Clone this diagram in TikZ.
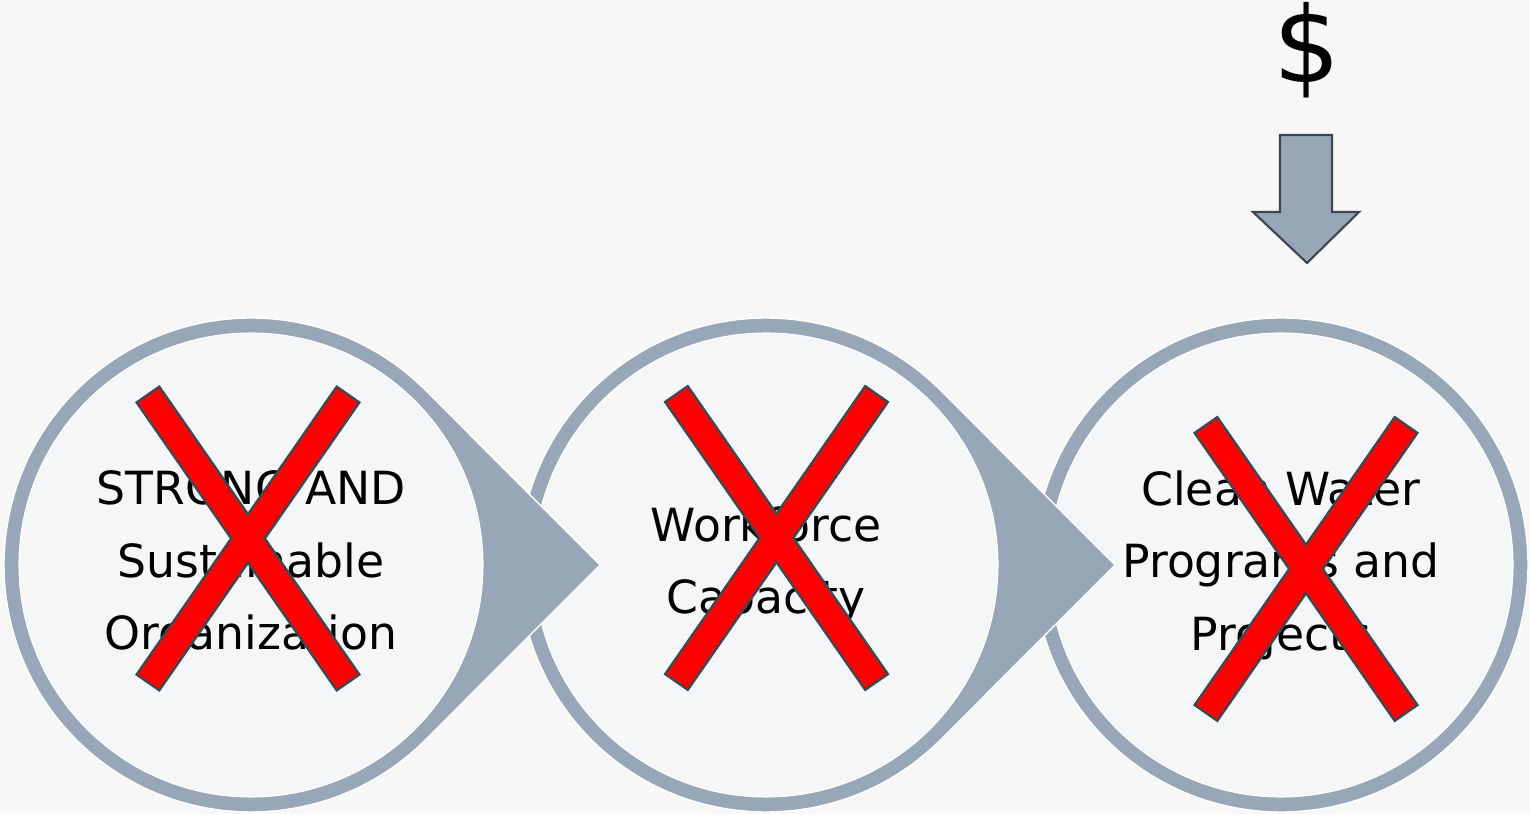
\documentclass[tikz,border=0pt]{standalone}
\usepackage{fontspec}
\setmainfont{DejaVu Sans}
\definecolor{bgcolor}{RGB}{247,247,247}
\definecolor{ringgray}{RGB}{152,167,183}
\definecolor{innerfill}{RGB}{244,246,248}
\definecolor{xred}{RGB}{255,0,0}
\definecolor{xedge}{RGB}{60,72,82}
\definecolor{arrowedge}{RGB}{62,69,80}

\begin{document}
\begin{tikzpicture}[
    ring/.style={fill=ringgray, draw=white, line width=0.4pt},
    inner/.style={circle, fill=innerfill, draw=white, line width=0.3pt, inner sep=0pt,
      minimum size=4.64cm, align=center, font=\fontsize{13}{20.6}\selectfont},
    xbar/.style={fill=xred, draw=xedge, line width=1.4pt},
    xfill/.style={fill=xred}
  ]
  \useasboundingbox (0,0) rectangle (15.3,8.14);
  \fill[bgcolor] (0,0) rectangle (15.3,8.14);

  \coordinate (c1) at (2.51,2.49);
  \coordinate (c2) at (7.66,2.49);
  \coordinate (c3) at (12.81,2.49);

  \filldraw[ring] (c3) circle (2.47);
  \node[inner] (cleanwater) at (c3) {Clean Water\\Programs and\\Projects};

  \filldraw[ring, shift={(c2)}] (3.49,0) -- (45:2.47) arc[start angle=45, end angle=315, radius=2.47] -- cycle;
  \node[inner] (workforce) at (c2) {Workforce\\Capacity};

  \filldraw[ring, shift={(c1)}] (3.49,0) -- (45:2.47) arc[start angle=45, end angle=315, radius=2.47] -- cycle;
  \node[inner] (strong) at (c1) {STRONG AND\\Sustainable\\Organization};

  \begin{scope}[shift={(strong.center)}, shift={(-0.03,0.265)}]
    \filldraw[xbar, rotate=55.2] (-1.74,-0.125) rectangle (1.74,0.125);
    \filldraw[xbar, rotate=-55.2] (-1.74,-0.125) rectangle (1.74,0.125);
    \fill[xfill, rotate=55.2] (-1.74,-0.125) rectangle (1.74,0.125);
    \fill[xfill, rotate=-55.2] (-1.74,-0.125) rectangle (1.74,0.125);
  \end{scope}
  \begin{scope}[shift={(workforce.center)}, shift={(0.105,0.27)}]
    \filldraw[xbar, rotate=55.2] (-1.74,-0.125) rectangle (1.74,0.125);
    \filldraw[xbar, rotate=-55.2] (-1.74,-0.125) rectangle (1.74,0.125);
    \fill[xfill, rotate=55.2] (-1.74,-0.125) rectangle (1.74,0.125);
    \fill[xfill, rotate=-55.2] (-1.74,-0.125) rectangle (1.74,0.125);
  \end{scope}
  \begin{scope}[shift={(cleanwater.center)}, shift={(0.25,-0.04)}]
    \filldraw[xbar, rotate=55.2] (-1.74,-0.125) rectangle (1.74,0.125);
    \filldraw[xbar, rotate=-55.2] (-1.74,-0.125) rectangle (1.74,0.125);
    \fill[xfill, rotate=55.2] (-1.74,-0.125) rectangle (1.74,0.125);
    \fill[xfill, rotate=-55.2] (-1.74,-0.125) rectangle (1.74,0.125);
  \end{scope}

  \node[anchor=base, inner sep=0pt, font=\fontsize{30}{36}\selectfont] (dollar) at (13.07,7.31) {\$};
  \filldraw[fill=ringgray, draw=arrowedge, line width=0.6pt] (12.80,6.79) -- (13.32,6.79) -- (13.32,6.02)
    -- (13.59,6.02) -- (13.07,5.51) -- (12.53,6.02) -- (12.80,6.02) -- cycle;
\end{tikzpicture}
\end{document}
